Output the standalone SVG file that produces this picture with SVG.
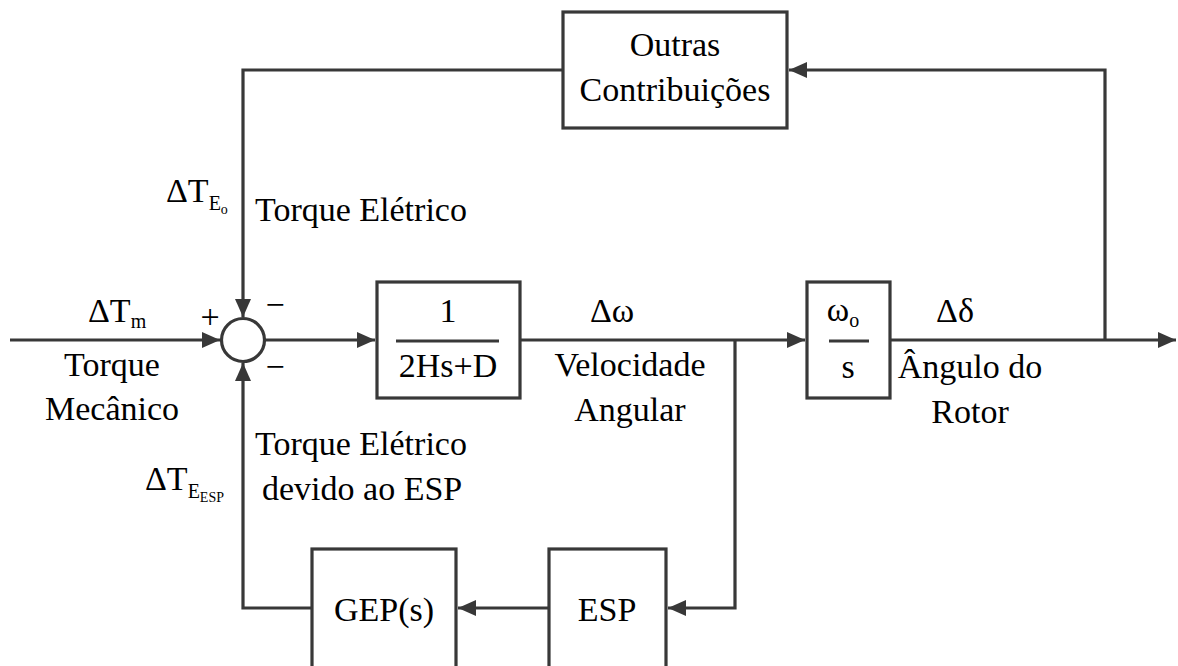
<svg xmlns="http://www.w3.org/2000/svg" width="1178" height="666" viewBox="0 0 1178 666">
<style>
.ln{fill:none;stroke:#383838;stroke-width:3.2}
.bx{fill:#fff;stroke:#383838;stroke-width:3.2}
text{font-family:"Liberation Serif","Times New Roman",serif;font-size:34px;fill:#000}
.m{text-anchor:middle}
</style>
<defs>
<marker id="ar" markerUnits="userSpaceOnUse" markerWidth="20" markerHeight="18" refX="18" refY="8" orient="auto">
<path d="M0,0 L18,8 L0,16 z" fill="#383838"/>
</marker>
</defs>
<rect width="1178" height="666" fill="#fff"/>
<g id="connectors">
<path class="ln" d="M10,340 H220" marker-end="url(#ar)"/>
<path class="ln" d="M563,70 H243 V317" marker-end="url(#ar)"/>
<path class="ln" d="M312,608 H243 V363" marker-end="url(#ar)"/>
<path class="ln" d="M265,340 H375" marker-end="url(#ar)"/>
<path class="ln" d="M520,340 H805" marker-end="url(#ar)"/>
<path class="ln" d="M735,340 V608 H668" marker-end="url(#ar)"/>
<path class="ln" d="M549,608 H458" marker-end="url(#ar)"/>
<path class="ln" d="M890,340 H1176" marker-end="url(#ar)"/>
<path class="ln" d="M1105,340 V70 H789" marker-end="url(#ar)"/>
</g>
<g id="sum">
<circle class="bx" cx="243" cy="340" r="21.5"/>
<text x="210" y="328" class="m" font-size="30">+</text>
<text x="275" y="316" class="m">−</text>
<text x="275" y="378" class="m">−</text>
</g>
<g id="outras">
<rect class="bx" x="563" y="12" width="224" height="116"/>
<text x="675" y="56" class="m">Outras</text>
<text x="675" y="101" class="m">Contribuições</text>
</g>
<g id="plant">
<rect class="bx" x="377" y="282" width="143" height="116"/>
<text x="448" y="322" class="m">1</text>
<line class="ln" x1="396" y1="341" x2="499" y2="341"/>
<text x="448" y="377" class="m">2Hs+D</text>
</g>
<g id="integ">
<rect class="bx" x="807" y="282" width="83" height="116"/>
<text x="843" y="321" class="m">ω<tspan font-size="20" dy="6">o</tspan></text>
<line class="ln" x1="829" y1="341" x2="869" y2="341"/>
<text x="848" y="378" class="m">s</text>
</g>
<g id="gep">
<rect class="bx" x="312" y="549" width="144" height="130"/>
<text x="384" y="621" class="m">GEP(s)</text>
</g>
<g id="esp">
<rect class="bx" x="549" y="549" width="117" height="130"/>
<text x="607" y="621" class="m">ESP</text>
</g>
<g id="labels">
<text x="166" y="202">ΔT<tspan font-size="20" dy="8">E</tspan><tspan font-size="14" dy="4">o</tspan></text>
<text x="255" y="221">Torque Elétrico</text>
<text x="88" y="322">ΔT<tspan font-size="20" dy="6">m</tspan></text>
<text x="112" y="376" class="m">Torque</text>
<text x="112" y="420" class="m">Mecânico</text>
<text x="255" y="455">Torque Elétrico</text>
<text x="262" y="500">devido ao ESP</text>
<text x="145" y="490">ΔT<tspan font-size="20" dy="8">E</tspan><tspan font-size="14" dy="4">ESP</tspan></text>
<text x="612" y="322" class="m">Δω</text>
<text x="630" y="376" class="m">Velocidade</text>
<text x="630" y="421" class="m">Angular</text>
<text x="955" y="322" class="m">Δδ</text>
<text x="970" y="378" class="m">Ângulo do</text>
<text x="970" y="423" class="m">Rotor</text>
</g>
</svg>
